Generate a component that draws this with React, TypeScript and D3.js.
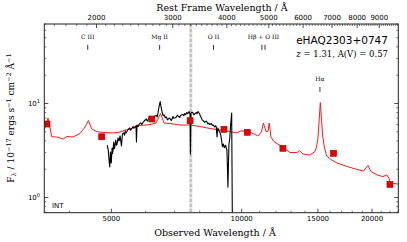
import React from "react";
import * as d3 from "d3";

// redshift of the quasar, used for the rest-frame axis
const Z = 1.31;

// model composite (red), observed wavelength in A, flux in 1e-17 erg/s/cm2/A
const modelWave = [3500, 3570, 3641, 3738, 3872, 3948, 4078, 4232, 4346, 4424, 4504, 4631, 4809, 5016, 5180, 5349, 5521, 5822, 6140, 6339, 6494, 6615, 6829, 7202, 7595, 8012, 8446, 8907, 9393, 9699, 9963, 10287, 10618, 10902, 11107, 11225, 11377, 11497, 11577, 11682, 11871, 12062, 12452, 12925, 13416, 13597, 13853, 14377, 14766, 14886, 15004, 15190, 15383, 15520, 15711, 16160, 16596, 17500, 18462, 19109, 19571, 19887, 20533, 21197, 21620, 21883, 22058, 22473, 23000];
const modelFlux = [5.22, 7.01, 4.43, 4.40, 4.19, 4.46, 4.40, 4.80, 5.62, 6.59, 5.36, 5.01, 4.91, 4.86, 4.91, 5.16, 5.36, 5.83, 5.98, 6.20, 7.83, 6.20, 6.12, 5.90, 5.90, 5.69, 5.42, 5.22, 5.04, 4.86, 5.10, 5.10, 4.80, 4.51, 4.98, 6.20, 5.04, 5.04, 6.20, 4.40, 3.94, 3.75, 3.44, 3.01, 3.01, 3.16, 2.90, 2.83, 3.09, 3.44, 4.30, 10.25, 4.51, 3.44, 2.76, 2.50, 2.33, 2.14, 1.99, 1.91, 2.19, 1.89, 1.74, 1.67, 1.74, 1.61, 1.43, 1.41, 1.39];

// observed spectrum (black)
const specWave = [4892, 4918, 4939, 4958, 4976, 4997, 5019, 5032, 5045, 5064, 5078, 5091, 5118, 5136, 5154, 5181, 5209, 5237, 5276, 5304, 5341, 5362, 5383, 5405, 5426, 5448, 5470, 5513, 5540, 5564, 5611, 5636, 5662, 5701, 5713, 5731, 5760, 5782, 5844, 5880, 5917, 5945, 5970, 6024, 6050, 6075, 6130, 6160, 6187, 6240, 6270, 6297, 6353, 6380, 6407, 6448, 6482, 6519, 6560, 6590, 6624, 6660, 6702, 6735, 6767, 6821, 6850, 6882, 6941, 6970, 7003, 7067, 7100, 7128, 7193, 7225, 7257, 7318, 7350, 7385, 7425, 7465, 7510, 7558, 7598, 7614, 7635, 7680, 7718, 7750, 7788, 7858, 7890, 7925, 7996, 8030, 8071, 8105, 8140, 8214, 8250, 8287, 8358, 8395, 8432, 8511, 8550, 8584, 8662, 8700, 8732, 8771, 8803, 8851, 8875, 8898, 8944, 8990, 9024, 9071, 9100, 9134, 9165, 9197, 9220, 9245, 9295, 9344, 9388, 9428, 9481, 9517];
const specFlux = [3.61, 3.20, 2.51, 2.11, 3.05, 2.33, 3.36, 2.95, 3.20, 3.89, 3.30, 3.44, 4.09, 3.60, 3.70, 4.30, 3.99, 4.52, 3.53, 4.74, 4.86, 4.60, 5.10, 4.85, 4.98, 5.20, 5.29, 5.49, 5.20, 5.36, 5.70, 5.45, 5.63, 5.77, 3.89, 5.91, 5.70, 5.91, 6.21, 6.00, 6.28, 6.45, 6.60, 6.84, 6.50, 6.68, 7.19, 6.80, 6.93, 7.10, 6.90, 7.37, 7.46, 7.20, 7.93, 9.41, 10.5, 8.96, 7.83, 7.40, 7.55, 7.05, 7.19, 6.70, 6.84, 7.01, 6.75, 6.60, 7.28, 6.95, 7.01, 7.19, 7.50, 7.37, 7.10, 7.45, 7.55, 7.64, 7.40, 7.83, 7.60, 8.02, 7.80, 8.22, 7.73, 2.90, 7.93, 8.10, 7.93, 7.60, 7.73, 8.02, 7.80, 8.22, 7.73, 7.30, 7.01, 6.70, 6.60, 6.28, 6.45, 6.52, 6.05, 6.20, 5.98, 6.13, 5.85, 5.91, 5.63, 5.80, 5.70, 4.41, 5.49, 5.23, 5.05, 4.98, 4.63, 3.99, 3.48, 3.70, 3.45, 3.40, 3.60, 3.53, 3.30, 3.20, 1.29, 3.70, 4.30, 5.91, 7.93, 0.5];

// photometry (red squares)
const photWave = [3550, 4750, 6200, 7600, 9100, 10300, 12450, 16300, 22000];
const photFlux = [6.05, 4.43, 6.84, 6.56, 5.31, 4.94, 3.34, 2.95, 1.38];

// emission line markers (rest-frame wavelengths)
const lineLabels = ["C III", "Mg II", "O II", "Hβ + O III", "Hα"];
const lineRest = [[1909], [2798], [3727], [4820, 4900], [6563]];
const lineLevel = [42, 42, 42, 42, 15];

// telluric band (observed)
const bandWave = [7570, 7690];

const obsTicks = [5000, 10000, 15000, 20000];
const restTicks = [2000, 3000, 4000, 5000, 6000, 7000, 8000, 9000];
const fluxTicks = [1, 10];
const fluxMinor = [0.7, 0.8, 0.9, 2, 3, 4, 5, 6, 7, 8, 9, 20, 30, 40, 50, 60, 70];

const W = 407, H = 242;
const L = 44.3, R = 398.3, T = 24, B = 212.7;

export default function App() {
  const x = d3.scaleLog().domain([3500, 23000]).range([L, R]);
  const xr = d3.scaleLog().domain([3500 / (1 + Z), 23000 / (1 + Z)]).range([L, R]);
  const y = d3.scaleLog().domain([0.69, 70]).range([B, T]);

  const line = d3.line<number[]>().x(d => x(d[0])).y(d => y(d[1]));
  const model = line(modelWave.map((w, i) => [w, modelFlux[i]]));
  const spec = line(specWave.map((w, i) => [w, specFlux[i]]));

  const obsMinor = d3.range(4000, 23001, 1000).filter(v => !obsTicks.includes(v));
  const restMinor = d3.range(1600, 9950, 100).filter(v => v % 1000 !== 0 && xr(v) <= R);

  const sans = "DejaVu Sans, sans-serif";
  const serif = "DejaVu Serif, serif";
  const axisCol = "#222";

  return (
    <svg width={W} height={H} style={{ position: "absolute", left: 0, top: 0 }} xmlns="http://www.w3.org/2000/svg">
      <rect width={W} height={H} fill="#fff" />
      <defs>
        <clipPath id="plot">
          <rect x={L} y={T} width={R - L} height={B - T} />
        </clipPath>
      </defs>

      <g clipPath="url(#plot)">
        <rect x={x(bandWave[0])} y={T} width={x(bandWave[1]) - x(bandWave[0])} height={B - T} fill="#e4e4e4" />
        <line x1={x(7630)} x2={x(7630)} y1={T} y2={B} stroke="#c4c4c4" strokeWidth={2.5} strokeDasharray="3,2" />
        <path d={model ?? ""} fill="none" stroke="#ff1a1a" strokeWidth={1} />
        <path d={spec ?? ""} fill="none" stroke="#000" strokeWidth={1.1} strokeLinejoin="round" />
        {photWave.map((w, i) => (
          <rect key={i} x={x(w) - 3} y={y(photFlux[i]) - 3} width={6} height={6} fill="#e60000" stroke="#a00000" strokeWidth={0.6} />
        ))}
      </g>

      {/* line markers */}
      {lineLabels.map((lab, i) => {
        const xs = lineRest[i].map(r => x(r * (1 + Z)));
        const cx = d3.mean(xs) as number;
        const yt = y(lineLevel[i]);
        return (
          <g key={lab}>
            {xs.map((xx, j) => (
              <line key={j} x1={xx} x2={xx} y1={yt} y2={yt + 5} stroke="#000" strokeWidth={0.8} />
            ))}
            <text x={cx} y={yt - 6} fontFamily={serif} fontSize={6} textAnchor="middle">{lab}</text>
          </g>
        );
      })}

      {/* frame */}
      <rect x={L} y={T} width={R - L} height={B - T} fill="none" stroke={axisCol} strokeWidth={1} />

      {/* bottom ticks */}
      {obsTicks.map(t => (
        <g key={t}>
          <line x1={x(t)} x2={x(t)} y1={B} y2={B - 4} stroke={axisCol} strokeWidth={0.8} />
          <text x={x(t)} y={221} fontFamily={sans} fontSize={7} textAnchor="middle">{t}</text>
        </g>
      ))}
      {obsMinor.map(t => (
        <line key={t} x1={x(t)} x2={x(t)} y1={B} y2={B - 2} stroke={axisCol} strokeWidth={0.6} />
      ))}

      {/* top ticks */}
      {restTicks.map(t => (
        <g key={t}>
          <line x1={xr(t)} x2={xr(t)} y1={T} y2={T + 4} stroke={axisCol} strokeWidth={0.8} />
          <text x={xr(t)} y={20} fontFamily={sans} fontSize={7} textAnchor="middle">{t}</text>
        </g>
      ))}
      {restMinor.map(t => (
        <line key={t} x1={xr(t)} x2={xr(t)} y1={T} y2={T + 2} stroke={axisCol} strokeWidth={0.6} />
      ))}

      {/* y ticks */}
      {fluxTicks.map((t, i) => (
        <g key={t}>
          <line x1={L} x2={L + 4} y1={y(t)} y2={y(t)} stroke={axisCol} strokeWidth={0.8} />
          <line x1={R} x2={R - 4} y1={y(t)} y2={y(t)} stroke={axisCol} strokeWidth={0.8} />
          <text x={40} y={y(t) + 2.5} fontFamily={sans} fontSize={7} textAnchor="end">
            10<tspan dy={-3} fontSize={5}>{i}</tspan>
          </text>
        </g>
      ))}
      {fluxMinor.map(t => (
        <g key={t}>
          <line x1={L} x2={L + 2} y1={y(t)} y2={y(t)} stroke={axisCol} strokeWidth={0.6} />
          <line x1={R} x2={R - 2} y1={y(t)} y2={y(t)} stroke={axisCol} strokeWidth={0.6} />
        </g>
      ))}

      {/* axis titles */}
      <text x={215} y={236} fontFamily={serif} fontSize={9.5} textAnchor="middle">Observed Wavelength / Å</text>
      <text x={222} y={11} fontFamily={serif} fontSize={9.5} textAnchor="middle">Rest Frame Wavelength / Å</text>
      <text transform="translate(14,118) rotate(-90)" fontFamily={serif} fontSize={9} textAnchor="middle">
        F<tspan dy={2} fontSize={6.5}>λ</tspan>
        <tspan dy={-2}> / 10</tspan>
        <tspan dy={-3.5} fontSize={6.5}>−17</tspan>
        <tspan dy={3.5}> ergs s</tspan>
        <tspan dy={-3.5} fontSize={6.5}>−1</tspan>
        <tspan dy={3.5}> cm</tspan>
        <tspan dy={-3.5} fontSize={6.5}>−2</tspan>
        <tspan dy={3.5}> Å</tspan>
        <tspan dy={-3.5} fontSize={6.5}>−1</tspan>
      </text>

      {/* annotations */}
      <text x={388} y={44} fontFamily={sans} fontSize={10.5} textAnchor="end">eHAQ2303+0747</text>
      <text x={388} y={56.5} fontFamily={serif} fontSize={8.5} textAnchor="end">
        <tspan fontStyle="italic">z</tspan> = 1.31, A(V) = 0.57
      </text>
      <text x={52} y={207.5} fontFamily={sans} fontSize={7}>INT</text>
    </svg>
  );
}
